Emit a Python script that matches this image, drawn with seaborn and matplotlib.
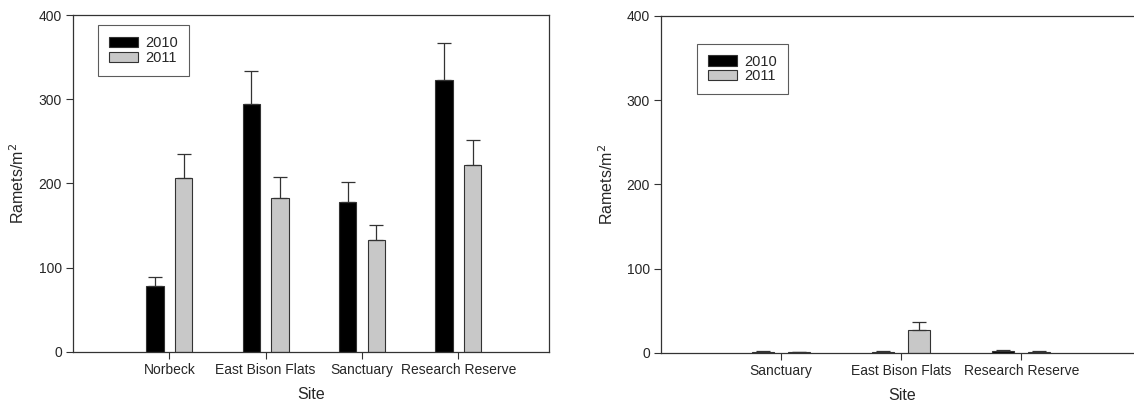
import matplotlib
matplotlib.use("Agg")
import matplotlib.pyplot as plt
import seaborn as sns
import pandas as pd
from matplotlib.patches import Patch

# data
years = ["2010", "2011"]

sites_left = ["Norbeck", "East Bison Flats", "Sanctuary", "Research Reserve"]
mean_left_2010 = [78, 294, 178, 323]
mean_left_2011 = [206, 183, 133, 222]
se_left_2010 = [11, 40, 24, 44]
se_left_2011 = [29, 25, 18, 30]

sites_right = ["Sanctuary", "East Bison Flats", "Research Reserve"]
mean_right_2010 = [1.5, 1.5, 2.0]
mean_right_2011 = [1.0, 27, 1.5]
se_right_2010 = [0.5, 1.0, 1.0]
se_right_2011 = [0.5, 10, 0.8]

colors = {"2010": "#000000", "2011": "#c8c8c8"}

sns.set_theme(style="white")
plt.rcParams["font.family"] = ["Liberation Sans", "DejaVu Sans"]


def make_df(sites, m10, m11, s10, s11):
    rows = []
    for i, s in enumerate(sites):
        rows.append({"site": s, "year": "2010", "mean": m10[i], "se": s10[i]})
        rows.append({"site": s, "year": "2011", "mean": m11[i], "se": s11[i]})
    return pd.DataFrame(rows)


def draw_panel(ax, df, sites, legend_anchor):
    sns.barplot(data=df, x="site", y="mean", hue="year", order=sites,
                hue_order=years, palette=colors, errorbar=None,
                width=0.6, gap=0.4, edgecolor="#333333", linewidth=0.8,
                legend=False, ax=ax)
    # upper-only error bars placed on each bar
    for year, cont in zip(years, ax.containers):
        sub = df[df["year"] == year].set_index("site").loc[sites]
        xs = [p.get_x() + p.get_width() / 2 for p in cont.patches]
        ax.errorbar(xs, sub["mean"], yerr=[[0] * len(xs), sub["se"]],
                    fmt="none", ecolor="#333333", elinewidth=0.9,
                    capsize=5, capthick=0.9, zorder=1)
    ax.set_ylim(0, 400)
    ax.set_yticks([0, 100, 200, 300, 400])
    ax.set_xlim(-1.0, 3.94)
    ax.set_xlabel("Site", fontsize=11.5, labelpad=7)
    ax.set_ylabel("Ramets/m$^2$", fontsize=11.5, labelpad=8)
    ax.tick_params(axis="both", which="both", direction="out", length=5,
                   width=0.8, color="#333333", labelsize=10, bottom=True,
                   left=True, pad=3)
    for sp in ax.spines.values():
        sp.set_color("#333333")
        sp.set_linewidth(0.9)
    handles = [Patch(facecolor=colors[y], edgecolor="#333333", linewidth=0.8,
                     label=y) for y in years]
    leg = ax.legend(handles=handles, loc="upper left",
                    bbox_to_anchor=legend_anchor, fontsize=10.5, frameon=True,
                    fancybox=False, edgecolor="#333333", handlelength=2.0,
                    handleheight=0.7, handletextpad=0.5, borderpad=0.75,
                    labelspacing=0.05, borderaxespad=0)
    leg.get_frame().set_linewidth(0.8)


fig = plt.figure(figsize=(11.34, 4.11), dpi=100)
ax1 = fig.add_axes([0.0644, 0.1436, 0.4196, 0.8199])
ax2 = fig.add_axes([0.583, 0.1412, 0.5229, 0.8199])

draw_panel(ax1, make_df(sites_left, mean_left_2010, mean_left_2011,
                        se_left_2010, se_left_2011), sites_left, (0.052, 0.97))
draw_panel(ax2, make_df(sites_right, mean_right_2010, mean_right_2011,
                        se_right_2010, se_right_2011), sites_right, (0.061, 0.918))

# the right panel runs past the figure edge, so centre its label on the sites
ax2.xaxis.label.set_x(0.406)

fig.savefig("out.png", dpi=100, facecolor="white")
